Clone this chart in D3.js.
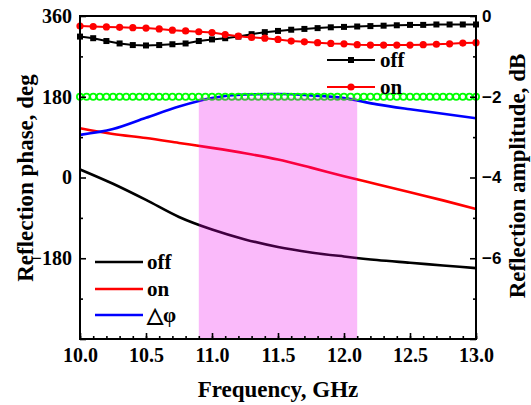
<!DOCTYPE html>
<html>
<head>
<meta charset="utf-8">
<script src="https://cdn.jsdelivr.net/npm/d3@7"></script>
<style>
  body { margin: 0; background: #fff; }
  svg { display: block; }
  .serif { font-family: "Liberation Serif", "Times New Roman", serif; font-weight: bold; }
  .sans { font-family: "Liberation Sans", Arial, sans-serif; font-weight: bold; }
</style>
</head>
<body>
<svg id="chart" width="531" height="405"></svg>
<script>
// ---- tick labels ----
const freqTicks = [10.0, 10.5, 11.0, 11.5, 12.0, 12.5, 13.0];
const phaseTicks = [360, 180, 0, -180];
const phaseMinor = [270, 90, -90, -270];
const ampTicks = [0, -2, -4, -6];
const ampMinor = [-1, -3, -5, -7];

// ---- reflection phase (deg) ----
const phaseFreq  = [10.0, 10.25, 10.5, 10.75, 11.0, 11.25, 11.5, 11.75, 12.0, 12.25, 12.5, 12.75, 13.0];
const phaseOff   = [18, -14, -50, -88, -116, -138, -155, -167, -176, -184, -190, -196, -202];
const phaseOn    = [110, 97, 88, 77, 66, 54, 40, 22, 3, -15, -33, -51, -70];
const phaseDelta = [95, 108, 133, 158, 177, 185, 186, 183, 177, 163, 152, 142, 132];

// ---- 180 deg reference (open circles) ----
const refFreq = [10.00, 10.05, 10.10, 10.15, 10.20, 10.25, 10.30, 10.35, 10.40, 10.45,
                 10.50, 10.55, 10.60, 10.65, 10.70, 10.75, 10.80, 10.85, 10.90, 10.95,
                 11.00, 11.05, 11.10, 11.15, 11.20, 11.25, 11.30, 11.35, 11.40, 11.45,
                 11.50, 11.55, 11.60, 11.65, 11.70, 11.75, 11.80, 11.85, 11.90, 11.95,
                 12.00, 12.05, 12.10, 12.15, 12.20, 12.25, 12.30, 12.35, 12.40, 12.45,
                 12.50, 12.55, 12.60, 12.65, 12.70, 12.75, 12.80, 12.85, 12.90, 12.95, 13.00];
const refPhase = [180, 180, 180, 180, 180, 180, 180, 180, 180, 180,
                  180, 180, 180, 180, 180, 180, 180, 180, 180, 180,
                  180, 180, 180, 180, 180, 180, 180, 180, 180, 180,
                  180, 180, 180, 180, 180, 180, 180, 180, 180, 180,
                  180, 180, 180, 180, 180, 180, 180, 180, 180, 180,
                  180, 180, 180, 180, 180, 180, 180, 180, 180, 180, 180];

// ---- reflection amplitude (dB) ----
const ampFreq = [10.0, 10.1, 10.2, 10.3, 10.4, 10.5, 10.6, 10.7, 10.8, 10.9,
                 11.0, 11.1, 11.2, 11.3, 11.4, 11.5, 11.6, 11.7, 11.8, 11.9,
                 12.0, 12.1, 12.2, 12.3, 12.4, 12.5, 12.6, 12.7, 12.8, 12.9, 13.0];
const ampOff = [-0.51, -0.55, -0.62, -0.68, -0.72, -0.73, -0.72, -0.70, -0.68, -0.62,
                -0.58, -0.55, -0.51, -0.45, -0.40, -0.37, -0.34, -0.32, -0.30, -0.28,
                -0.27, -0.26, -0.25, -0.24, -0.23, -0.22, -0.22, -0.21, -0.21, -0.21, -0.21];
const ampOn  = [-0.25, -0.26, -0.27, -0.28, -0.29, -0.30, -0.32, -0.35, -0.37, -0.39,
                -0.41, -0.46, -0.50, -0.53, -0.55, -0.58, -0.62, -0.64, -0.66, -0.68,
                -0.69, -0.71, -0.72, -0.72, -0.72, -0.72, -0.71, -0.70, -0.69, -0.67, -0.66];

// highlighted band (GHz)
const band = [10.9, 12.1];

const svg = d3.select("#chart");
const L = 80, R = 476, T = 16, B = 339;

const x  = d3.scaleLinear().domain([10, 13]).range([L, R]);
const yP = d3.scaleLinear().domain([-360, 360]).range([B, T]);
const yA = d3.scaleLinear().domain([-8, 0]).range([B, T]);

const zip = (xs, ys) => xs.map((v, i) => [v, ys[i]]);

// ---- phase curves ----
const phaseLine = d3.line().x(d => x(d[0])).y(d => yP(d[1])).curve(d3.curveMonotoneX);
[[phaseOff, "#000000"], [phaseOn, "#ff0000"], [phaseDelta, "#0000ff"]].forEach(([vals, c]) => {
  svg.append("path")
    .attr("d", phaseLine(zip(phaseFreq, vals)))
    .attr("fill", "none").attr("stroke", c).attr("stroke-width", 2.6);
});

// ---- 180 deg reference circles ----
svg.append("g").selectAll("circle")
  .data(zip(refFreq, refPhase))
  .join("circle")
  .attr("cx", d => x(d[0])).attr("cy", d => yP(d[1])).attr("r", 3.1)
  .attr("fill", "none").attr("stroke", "#00ff00").attr("stroke-width", 1.8);

// ---- amplitude curves with markers ----
const ampLine = d3.line().x(d => x(d[0])).y(d => yA(d[1]));
svg.append("path").attr("d", ampLine(zip(ampFreq, ampOff)))
  .attr("fill", "none").attr("stroke", "#000").attr("stroke-width", 2);
svg.append("g").selectAll("rect").data(zip(ampFreq, ampOff)).join("rect")
  .attr("x", d => x(d[0]) - 3).attr("y", d => yA(d[1]) - 3)
  .attr("width", 6).attr("height", 6).attr("fill", "#000");

svg.append("path").attr("d", ampLine(zip(ampFreq, ampOn)))
  .attr("fill", "none").attr("stroke", "#ff0000").attr("stroke-width", 2);
svg.append("g").selectAll("circle").data(zip(ampFreq, ampOn)).join("circle")
  .attr("cx", d => x(d[0])).attr("cy", d => yA(d[1])).attr("r", 3.6)
  .attr("fill", "#ff0000");

// ---- highlighted band ----
svg.append("rect")
  .attr("x", x(band[0])).attr("width", x(band[1]) - x(band[0]))
  .attr("y", yP(178)).attr("height", B - yP(178))
  .attr("fill", "#ee00ee").attr("fill-opacity", 0.27);

// ---- axes ----
function styleAxis(g) {
  g.select(".domain").remove();
  g.selectAll(".tick line").attr("stroke", "#000").attr("stroke-width", 1.6);
}

svg.append("g").attr("transform", `translate(0,${B})`)
  .call(d3.axisBottom(x).ticks(30).tickSize(-3).tickFormat(""))
  .call(styleAxis);
svg.append("g").attr("transform", `translate(0,${B})`)
  .call(d3.axisBottom(x).tickValues(freqTicks).tickSize(-6).tickPadding(9).tickFormat(d3.format(".1f")))
  .call(styleAxis)
  .selectAll("text").attr("class", "serif").attr("font-size", 20).attr("fill", "#000");

svg.append("g").attr("transform", `translate(${L},0)`)
  .call(d3.axisLeft(yP).tickValues(phaseMinor).tickSize(-3).tickFormat(""))
  .call(styleAxis);
svg.append("g").attr("transform", `translate(${L},0)`)
  .call(d3.axisLeft(yP).tickValues(phaseTicks.concat([-360])).tickSize(-6).tickPadding(8)
        .tickFormat(d => phaseTicks.includes(d) ? d3.format("d")(d) : ""))
  .call(styleAxis)
  .selectAll("text").attr("class", "serif").attr("font-size", 20).attr("fill", "#000");

svg.append("g").attr("transform", `translate(${R},0)`)
  .call(d3.axisRight(yA).tickValues(ampMinor).tickSize(-3).tickFormat(""))
  .call(styleAxis);
svg.append("g").attr("transform", `translate(${R},0)`)
  .call(d3.axisRight(yA).tickValues(ampTicks.concat([-8])).tickSize(-6).tickPadding(6)
        .tickFormat(d => ampTicks.includes(d) ? d3.format("d")(d) : ""))
  .call(styleAxis)
  .selectAll("text").attr("class", "sans").attr("font-size", 17).attr("fill", "#000");

// frame
svg.append("rect").attr("x", L).attr("y", T).attr("width", R - L).attr("height", B - T)
  .attr("fill", "none").attr("stroke", "#000").attr("stroke-width", 2);

// ---- axis titles ----
svg.append("text").attr("class", "serif").attr("font-size", 23)
  .attr("text-anchor", "middle").attr("x", 278).attr("y", 397)
  .text("Frequency, GHz");
svg.append("text").attr("class", "serif").attr("font-size", 23)
  .attr("text-anchor", "middle")
  .attr("transform", "translate(33,178) rotate(-90)")
  .text("Reflection phase, deg");
svg.append("text").attr("class", "serif").attr("font-size", 23)
  .attr("text-anchor", "middle")
  .attr("transform", "translate(525,176) rotate(-90)")
  .text("Reflection amplitude, dB");

// ---- legend: amplitude (top right) ----
const legA = [["off", "#000", "square", 60], ["on", "#ff0000", "circle", 87]];
legA.forEach(([label, c, shape, yy]) => {
  svg.append("line").attr("x1", 327).attr("x2", 375).attr("y1", yy).attr("y2", yy)
    .attr("stroke", c).attr("stroke-width", 2);
  if (shape === "square") {
    svg.append("rect").attr("x", 348).attr("y", yy - 3).attr("width", 6).attr("height", 6).attr("fill", c);
  } else {
    svg.append("circle").attr("cx", 351).attr("cy", yy).attr("r", 3.6).attr("fill", c);
  }
  svg.append("text").attr("class", "serif").attr("font-size", 21)
    .attr("x", 380).attr("y", yy + 7).text(label);
});

// ---- legend: phase (bottom left) ----
const legP = [["off", "#000", 262], ["on", "#ff0000", 289], ["\u25B3\u03C6", "#0000ff", 315]];
legP.forEach(([label, c, yy]) => {
  svg.append("line").attr("x1", 95).attr("x2", 143).attr("y1", yy).attr("y2", yy)
    .attr("stroke", c).attr("stroke-width", 2.6);
  svg.append("text").attr("class", "serif").attr("font-size", 21)
    .attr("x", 147).attr("y", yy + 7).text(label);
});
</script>
</body>
</html>
